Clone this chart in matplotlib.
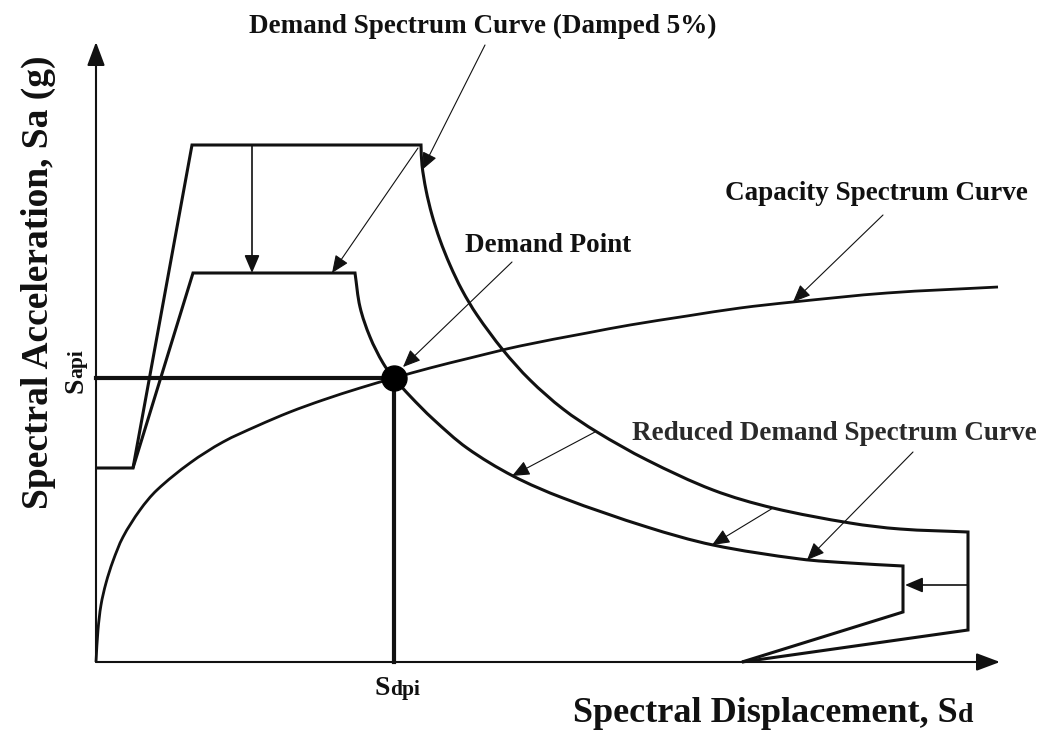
"""
Capacity spectrum method sketch: 5%-damped demand spectrum, reduced
demand spectrum and capacity curve, with the performance (demand) point.
"""
import numpy as np
import matplotlib
matplotlib.use("Agg")
import matplotlib.pyplot as plt
from matplotlib.path import Path
from matplotlib.patches import PathPatch

# ── Data (Sd, Sa in arbitrary units) ─────────────────────────────────────────
CAP_SD = [0, 2, 5, 10, 17, 27, 44, 61, 94, 127, 161, 194, 227, 264, 298,
          334, 374, 424, 491, 534, 591, 644, 697, 791, 902]
CAP_SA = [0, 32, 57, 79, 101, 125, 152, 172, 199, 220, 236, 250, 262, 274, 284,
          294, 304, 316, 329, 337, 346, 354, 360, 369, 375]

# 5% damped demand: plateau corners, descending branch, cut-off
DEM_SD = [0, 37, 96, 325, 326, 330, 336, 344, 354, 366, 381, 407, 434, 467,
          501, 551, 617, 677, 754, 804, 872, 872, 646]
DEM_SA = [194, 194, 517, 517, 497, 472, 447, 422, 397, 372, 347, 312, 282, 253,
          230, 202, 172, 154, 139, 133, 130, 32, 0]
DEM_BEND = (3, 20)          # first/last index of the curved branch

RED_SD = [37, 97, 259, 264, 274, 287, 298, 314, 337, 371, 417, 467, 551,
          617, 704, 754, 807, 807, 646]
RED_SA = [194, 389, 389, 355, 325, 299, 284, 266, 243, 214, 186, 164, 135,
          117, 103, 99, 96, 50, 0]
RED_BEND = (2, 16)

SD_PI = 298
SA_PI = 284

# arrows: (start, tip)
LEADERS = [
    ((389, 617), (326, 492)),   # Demand Spectrum Curve (Damped 5%)
    ((322, 514), (236, 389)),
    ((416, 400), (307, 295)),   # Demand Point
    ((787, 447), (697, 360)),   # Capacity Spectrum Curve
    ((499, 230), (416, 186)),
    ((677, 154), (616, 117)),
    ((817, 210), (711, 102)),   # Reduced Demand Spectrum Curve
]
REDUCTIONS = [
    ((156, 517), (156, 389)),
    ((872, 77), (809, 77)),
]

FONT = "Liberation Serif"
INK = "#111111"


def spectrum_path(xs, ys, bend):
    """Straight segments outside `bend`, smooth Hermite curve inside it."""
    pts = np.column_stack([xs, ys]).astype(float)
    i0, i1 = bend
    verts = [pts[0]]
    codes = [Path.MOVETO]
    for p in pts[1:i0 + 1]:
        verts.append(p)
        codes.append(Path.LINETO)

    seg = pts[i0:i1 + 1]
    t = np.concatenate([[0], np.cumsum(np.hypot(*np.diff(seg, axis=0).T))])
    m = np.empty_like(seg)
    m[0] = (seg[1] - seg[0]) / (t[1] - t[0])
    m[-1] = (seg[-1] - seg[-2]) / (t[-1] - t[-2])
    m[1:-1] = (seg[2:] - seg[:-2]) / (t[2:] - t[:-2])[:, None]
    for k in range(len(seg) - 1):
        h = t[k + 1] - t[k]
        verts += [seg[k] + m[k] * h / 3, seg[k + 1] - m[k + 1] * h / 3, seg[k + 1]]
        codes += [Path.CURVE4] * 3

    for p in pts[i1 + 1:]:
        verts.append(p)
        codes.append(Path.LINETO)
    return Path(verts, codes)


def main():
    fig = plt.figure(figsize=(10.48, 7.3), dpi=100)
    fig.patch.set_facecolor("white")
    ax = fig.add_axes([0, 0, 1, 1])
    ax.set_xlim(-96, 952)
    ax.set_ylim(-68, 662)
    ax.set_axis_off()

    # axes with arrow heads
    axis_style = "-|>,head_length=0.72,head_width=0.27"
    for tip in [(0, 620), (904, 0)]:
        ax.annotate("", xy=tip, xytext=(0, 0),
                    arrowprops=dict(arrowstyle=axis_style, mutation_scale=20,
                                    lw=1.5, color=INK, shrinkA=0, shrinkB=0))

    # spectra
    for xs, ys, bend, lw in [(DEM_SD, DEM_SA, DEM_BEND, 2.2),
                             (RED_SD, RED_SA, RED_BEND, 2.2),
                             (CAP_SD, CAP_SA, (0, len(CAP_SD) - 1), 2.0)]:
        ax.add_patch(PathPatch(spectrum_path(xs, ys, bend), fill=False,
                               edgecolor=INK, lw=lw, joinstyle="miter"))

    # demand point projections
    ax.plot([0, SD_PI], [SA_PI, SA_PI], color=INK, lw=3.0)
    ax.plot([SD_PI, SD_PI], [0, SA_PI], color=INK, lw=3.0)
    ax.plot(SD_PI, SA_PI, "o", color="black", ms=18)

    head = "-|>,head_length=0.54,head_width=0.23"
    for start, tip in LEADERS:
        ax.annotate("", xy=tip, xytext=start,
                    arrowprops=dict(arrowstyle=head, mutation_scale=20, lw=0.8,
                                    color=INK, shrinkA=0, shrinkB=0))
    for start, tip in REDUCTIONS:
        ax.annotate("", xy=tip, xytext=start,
                    arrowprops=dict(arrowstyle=head, mutation_scale=20, lw=1.2,
                                    color=INK, shrinkA=0, shrinkB=0))

    txt = dict(family=FONT, weight="bold", color=INK)
    ax.text(387, 629, "Demand Spectrum Curve (Damped 5%)", fontsize=19.5,
            ha="center", va="baseline", **txt)
    ax.text(452, 410, "Demand Point", fontsize=19.5, ha="center", va="baseline", **txt)
    ax.text(780, 462, "Capacity Spectrum Curve", fontsize=19.5,
            ha="center", va="baseline", **txt)
    ax.text(738, 222, "Reduced Demand Spectrum Curve", fontsize=19.5,
            ha="center", va="baseline", color="#2a2a2a", family=FONT, weight="bold")

    ax.text(-48, 380, "Spectral Acceleration, Sa (g)", fontsize=27, rotation=90,
            rotation_mode="anchor", ha="center", va="baseline", **txt)

    renderer = fig.canvas.get_renderer()
    inv = ax.transData.inverted()

    def split_label(x, y, big, small, size, small_size, rotation=0):
        t = ax.text(x, y, big, fontsize=size, rotation=rotation,
                    rotation_mode="anchor", ha="left", va="baseline", **txt)
        bb = t.get_window_extent(renderer)
        if rotation == 0:
            px, py = bb.x1, ax.transData.transform((x, y))[1]
        else:
            px, py = ax.transData.transform((x, y))[0], bb.y1
        nx, ny = inv.transform((px, py))
        ax.text(nx, ny, small, fontsize=small_size, rotation=rotation,
                rotation_mode="anchor", ha="left", va="baseline", **txt)

    split_label(477, -60, "Spectral Displacement, S", "d", 26, 20)
    split_label(279, -33, "S", "dpi", 20, 15.5)
    split_label(-14, 269, "S", "api", 20, 15.5, rotation=90)

    fig.savefig("out.png", dpi=100, facecolor="white")
    plt.close(fig)


if __name__ == "__main__":
    main()
